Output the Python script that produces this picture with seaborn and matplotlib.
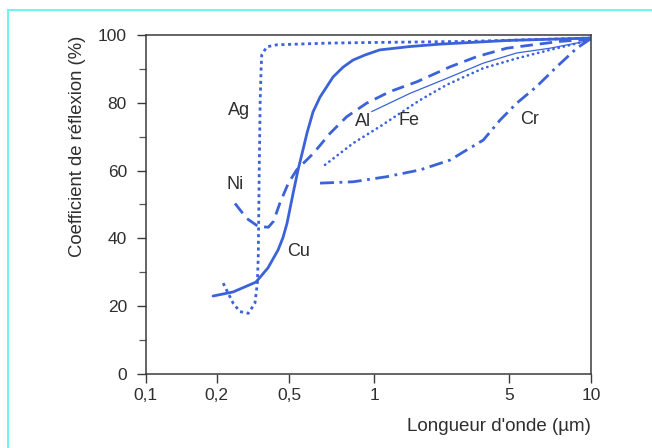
import numpy as np
import pandas as pd
import seaborn as sns
import matplotlib.pyplot as plt
from matplotlib.lines import Line2D

# Reflection coefficient (%) vs wavelength (um)
ag_x = [0.217, 0.246, 0.268, 0.298, 0.324, 0.334, 0.338, 0.342, 0.346, 0.350, 0.353, 0.376, 0.426, 0.68, 1.0, 3.0, 10.0]
ag_y = [26.8, 20.9, 18.4, 17.9, 20.9, 26.8, 35.0, 60.0, 80.0, 89.7, 94.1, 96.5, 97.1, 97.6, 97.8, 98.1, 99.1]

cu_x = [0.193, 0.246, 0.328, 0.382, 0.434, 0.462, 0.486, 0.516, 0.537, 0.559, 0.578, 0.607, 0.643,
        0.715, 0.776, 0.842, 0.929, 1.07, 1.54, 2.2, 5.0, 10.0]
cu_y = [23.0, 24.2, 27.1, 31.3, 36.6, 40.3, 44.5, 53.4, 60.2, 66.1, 71.1, 77.3, 81.7,
        87.6, 90.5, 92.6, 94.1, 95.6, 96.6, 97.3, 98.4, 99.1]

ni_x = [0.252, 0.292, 0.338, 0.384, 0.409, 0.444, 0.494, 0.531, 0.609, 0.698, 0.80, 0.942, 1.21, 1.67, 2.48, 3.41, 4.88, 6.13, 7.69, 10.0]
ni_y = [50.3, 45.9, 43.5, 43.3, 45.0, 50.4, 56.3, 60.2, 65.1, 71.0, 75.9, 79.9, 83.3, 86.2, 90.6, 93.6, 96.1, 97.1, 98.1, 98.8]

al_x = [0.981, 1.54, 2.48, 3.69, 5.35, 7.07, 9.33, 10.0]
al_y = [77.4, 82.8, 87.6, 91.7, 94.7, 96.1, 98.0, 98.8]

fe_x = [0.67, 0.844, 1.074, 1.364, 1.733, 2.384, 3.69, 5.35, 7.07, 8.85, 10.0]
fe_y = [61.7, 68.1, 73.0, 76.9, 80.8, 85.3, 90.2, 93.1, 95.6, 97.5, 98.8]

cr_x = [0.643, 0.844, 1.164, 1.733, 2.48, 3.03, 3.69, 4.51, 5.35, 6.32, 7.48, 8.85, 10.0]
cr_y = [56.3, 56.7, 58.2, 60.2, 63.1, 66.1, 69.0, 74.9, 79.9, 84.8, 90.6, 96.1, 99.0]

metals = ['Ag', 'Ni', 'Cu', 'Al', 'Fe', 'Cr']
label_x = [0.266, 0.252, 0.5415, 0.912, 1.525, 5.94]
label_y = [77.6, 55.8, 36.1, 74.4, 74.7, 75.1]

x_ticks = [0.1, 0.2, 0.5, 1, 5, 10]
x_ticklabels = ['0,1', '0,2', '0,5', '1', '5', '10']
y_ticks = [0, 20, 40, 60, 80, 100]

# the printed wavelength axis is only roughly logarithmic: tick spacing as drawn
tick_pos = np.array([0, 71, 143.6, 228.3, 363, 445.6]) / 445.6
lk = np.log10(x_ticks)
lk_e = np.r_[lk[0] - 3, lk, lk[-1] + 3]
pk_e = np.r_[tick_pos[0] - 3 * (tick_pos[1] - tick_pos[0]) / (lk[1] - lk[0]),
             tick_pos,
             tick_pos[-1] + 3 * (tick_pos[-1] - tick_pos[-2]) / (lk[-1] - lk[-2])]


def fwd(x):
    x = np.clip(np.asarray(x, dtype=float), 1e-4, 1e4)
    return np.interp(np.log10(x), lk_e, pk_e)


def inv(u):
    return 10 ** np.interp(np.asarray(u, dtype=float), pk_e, lk_e)


sns.set_style('ticks')
plt.rcParams['font.family'] = ['Liberation Sans', 'DejaVu Sans']

blue = '#3b62d8'
txt = '#2e2e2e'

fig = plt.figure(figsize=(6.52, 4.48), dpi=100)
ax = fig.add_axes([0.2235, 0.1652, 0.6834, 0.7567])
ax.set_xscale('function', functions=(fwd, inv))

series = [
    (ag_x, ag_y, dict(lw=2.0, linestyle=(0, (1.1, 1.3)))),
    (ni_x, ni_y, dict(lw=2.0, linestyle=(0, (4.5, 2.5)))),
    (cu_x, cu_y, dict(lw=2.0, linestyle='-')),
    (al_x, al_y, dict(lw=0.9, linestyle='-')),
    (fe_x, fe_y, dict(lw=1.9, linestyle=(0, (0.1, 1.9)), dash_capstyle='round')),
    (cr_x, cr_y, dict(lw=2.0, linestyle=(0, (5, 2, 1, 2)))),
]
for xs, ys, kw in series:
    sns.lineplot(x=xs, y=ys, ax=ax, color=blue, sort=False, estimator=None, **kw)

for name, lx, ly in zip(metals, label_x, label_y):
    ax.text(lx, ly, name, ha='center', va='center', fontsize=13, color=txt)

ax.set_xlim(0.1, 10)
ax.set_ylim(0, 100)
ax.set_xticks(x_ticks)
ax.set_xticklabels(x_ticklabels)
ax.xaxis.set_minor_locator(plt.NullLocator())
ax.set_yticks(y_ticks)
ax.set_yticks([10, 30, 50, 70, 90], minor=True)

for s in ax.spines.values():
    s.set_color('#3a3a3a')
    s.set_linewidth(1.1)
ax.tick_params(axis='both', which='major', direction='out', length=6.5, width=1,
               color='#3a3a3a', labelcolor=txt, labelsize=12.5)
ax.tick_params(axis='y', which='minor', direction='out', length=5, width=0.9, color='#555555')
ax.tick_params(axis='x', pad=3.5)
ax.tick_params(axis='y', pad=7)

ax.set_ylabel('Coefficient de réflexion (%)', fontsize=13.3, color=txt, va='center')
ax.yaxis.set_label_coords(-0.152, 0.673)
ax.set_xlabel("Longueur d'onde (µm)", fontsize=13.5, color=txt, ha='right', va='center')
ax.xaxis.set_label_coords(1.0, -0.155)

# cyan frame of the original page
fig.add_artist(Line2D([8.3 / 652, 8.3 / 652], [0, 1 - 10 / 448], color='#6ff3f3', lw=1.4))
fig.add_artist(Line2D([8.3 / 652, 1], [1 - 10 / 448, 1 - 10 / 448], color='#6ff3f3', lw=1.4))

fig.savefig('out.png', dpi=100)
